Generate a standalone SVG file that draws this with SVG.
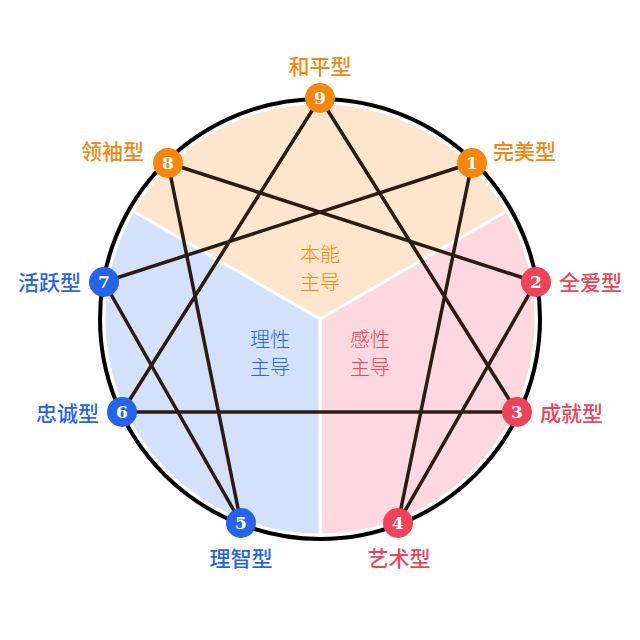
<svg xmlns="http://www.w3.org/2000/svg" width="640" height="640" viewBox="0 0 640 640">
<style>
.sec{stroke:#fff;stroke-width:3}
.edge{stroke:#2b1c12;stroke-width:3.5;fill:none;stroke-linecap:round}
.lbl{font-family:"Noto Sans CJK SC","Noto Sans",sans-serif;font-size:21px;font-weight:500;dominant-baseline:central}
.mid{font-family:"Noto Sans CJK SC","Noto Sans",sans-serif;font-size:20px;font-weight:300;text-anchor:middle;dominant-baseline:central}
.num{font-family:"DejaVu Serif","Liberation Serif",serif;font-weight:bold;font-size:17px;fill:#fff;text-anchor:middle;dominant-baseline:central}
.o{fill:#F5870F}.b{fill:#2563EB}.r{fill:#F0435A}
</style>
<rect width="640" height="640" fill="#fff"/>
<g id="sectors">
<path class="sec" d="M320,319 L132.9,211 A216,216 0 0 1 507.1,211 Z" fill="#FDE6CD"/>
<path class="sec" d="M320,319 L507.1,211 A216,216 0 0 1 320,535 Z" fill="#FDD9DF"/>
<path class="sec" d="M320,319 L320,535 A216,216 0 0 1 132.9,211 Z" fill="#D4E1FA"/>
</g>
<circle cx="320" cy="319" r="220" fill="none" stroke="#000" stroke-width="4"/>
<g id="center-labels">
<text class="mid" x="320" y="253" fill="#F5870F">本能</text>
<text class="mid" x="320" y="281" fill="#F5870F">主导</text>
<text class="mid" x="270" y="338" fill="#2563EB">理性</text>
<text class="mid" x="270" y="366" fill="#2563EB">主导</text>
<text class="mid" x="370" y="338" fill="#F0435A">感性</text>
<text class="mid" x="370" y="366" fill="#F0435A">主导</text>
</g>
<g id="connectors">
<line class="edge" x1="320" y1="98" x2="517" y2="412"/>
<line class="edge" x1="517" y1="412" x2="122" y2="412"/>
<line class="edge" x1="122" y1="412" x2="320" y2="98"/>
<line class="edge" x1="472" y1="163" x2="398" y2="523"/>
<line class="edge" x1="398" y1="523" x2="536" y2="282"/>
<line class="edge" x1="536" y1="282" x2="168" y2="163"/>
<line class="edge" x1="168" y1="163" x2="241" y2="523"/>
<line class="edge" x1="241" y1="523" x2="104" y2="282"/>
<line class="edge" x1="104" y1="282" x2="472" y2="163"/>
</g>
<g id="node9"><circle class="o" cx="320" cy="98" r="15"/><text class="num" x="320" y="98">9</text><text class="lbl o" x="320" y="65" text-anchor="middle">和平型</text></g>
<g id="node1"><circle class="o" cx="472" cy="163" r="15"/><text class="num" x="472" y="163">1</text><text class="lbl o" x="493" y="150">完美型</text></g>
<g id="node2"><circle class="r" cx="536" cy="282" r="15"/><text class="num" x="536" y="282">2</text><text class="lbl r" x="559" y="281">全爱型</text></g>
<g id="node3"><circle class="r" cx="517" cy="412" r="15"/><text class="num" x="517" y="412">3</text><text class="lbl r" x="540" y="412">成就型</text></g>
<g id="node4"><circle class="r" cx="398" cy="523" r="15"/><text class="num" x="398" y="523">4</text><text class="lbl r" x="399" y="557" text-anchor="middle">艺术型</text></g>
<g id="node5"><circle class="b" cx="241" cy="523" r="15"/><text class="num" x="241" y="523">5</text><text class="lbl b" x="241" y="557" text-anchor="middle">理智型</text></g>
<g id="node6"><circle class="b" cx="122" cy="412" r="15"/><text class="num" x="122" y="412">6</text><text class="lbl b" x="99" y="412" text-anchor="end">忠诚型</text></g>
<g id="node7"><circle class="b" cx="104" cy="282" r="15"/><text class="num" x="104" y="282">7</text><text class="lbl b" x="81" y="281" text-anchor="end">活跃型</text></g>
<g id="node8"><circle class="o" cx="168" cy="163" r="15"/><text class="num" x="168" y="163">8</text><text class="lbl o" x="144" y="150" text-anchor="end">领袖型</text></g>
</svg>
